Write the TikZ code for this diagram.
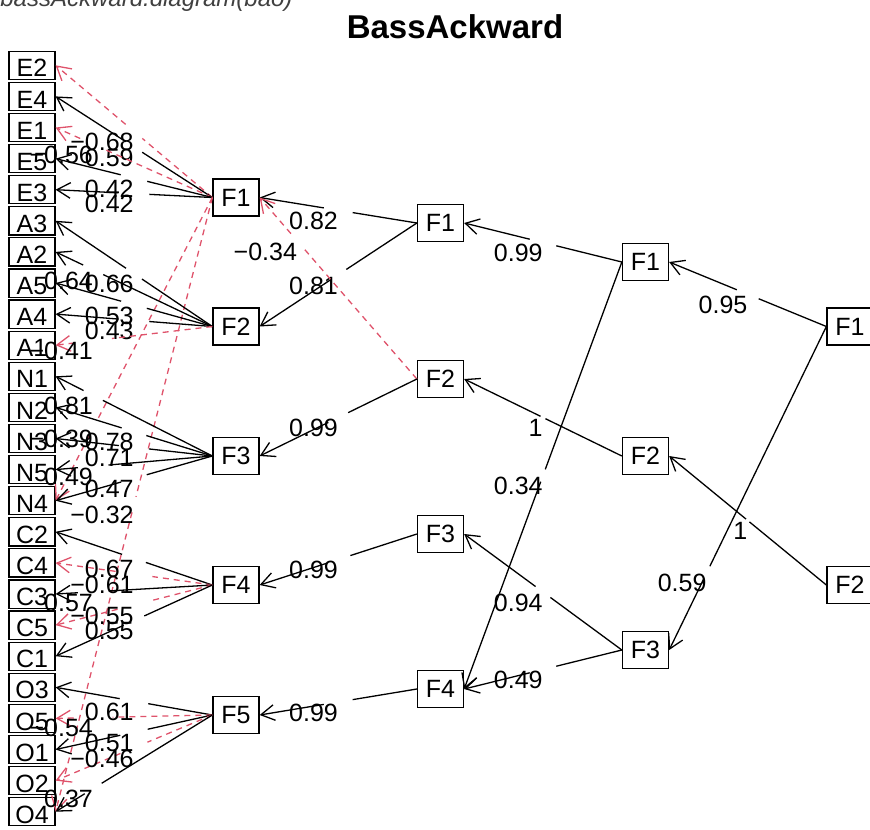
\documentclass[tikz,border=0pt]{standalone}
\usepackage{fontspec}
\setmainfont{Liberation Sans}
\usetikzlibrary{arrows.meta, calc}
\definecolor{NegRed}{HTML}{DF536B}
\tikzset{
  item node/.style={rectangle, draw, line width=0.6pt, minimum width=23pt,
                    minimum height=14.1pt, inner sep=0pt,
                    text height=11.6pt, text depth=0pt},
  fac node/.style={rectangle, draw, line width=0.65pt, minimum width=23pt,
                   minimum height=18.5pt, inner sep=0pt},
  pos edge/.style={line width=0.65pt},
  neg edge/.style={line width=0.65pt, draw=NegRed, dash pattern=on 3pt off 2.5pt},
  tip edge/.style={-{Straight Barb[angle=60:7.8pt]}},
  load label/.style={anchor=north east, inner sep=0pt, yshift=-0.7pt},
}
% from, to, position, gap (chars), label, style
\newcommand{\loading}[6]{%
  \path (#1.west) -- (#2.east) coordinate[pos=#3] (lm);
  \draw[#6] let \p1=($(#2.east)-(#1.west)$),
               \n1={#4*1.95*veclen(\x1,\y1)/veclen(\x1,2.5*(\y1))} in
    (#1.west) -- ($(lm)!{\n1*1pt}!(#1.west)$);
  \draw[#6, tip edge] let \p1=($(#2.east)-(#1.west)$),
               \n1={#4*1.95*veclen(\x1,\y1)/veclen(\x1,2.5*(\y1))} in
    ($(lm)!{\n1*1pt}!(#2.east)$) -- (#2.east);
  \node[load label] at (lm) {#5};
}

\begin{document}
\begin{tikzpicture}[x=0.5pt, y=-0.5pt, font=\fontsize{12.5}{15}\selectfont]
  \useasboundingbox (0,0) rectangle (870,829);
  \node[anchor=base west, inner sep=0pt, text=black!75, font=\fontsize{12}{14}\selectfont\itshape]
    (call) at (0,7) {bassAckward.diagram(bao)};
  \node[font=\fontsize{16.5}{19}\selectfont\bfseries] (title) at (455,27) {BassAckward};

  % items
  \foreach \nm [count=\i from 0] in {E2,E4,E1,E5,E3,A3,A2,A5,A4,A1,N1,N2,N3,N5,N4,
                                     C2,C4,C3,C5,C1,O3,O5,O1,O2,O4}
    \node[item node] (\nm) at (32,{65.3+31.1*\i}) {\nm};

  % factors, one column per level
  \foreach \y [count=\i] in {197.5,326.5,456,585,715}
    \node[fac node] (l1f\i) at (236,\y) {F\i};
  \foreach \y [count=\i] in {223,379,534,689}
    \node[fac node] (l2f\i) at (440.5,\y) {F\i};
  \foreach \y [count=\i] in {262,456,650}
    \node[fac node] (l3f\i) at (645.5,\y) {F\i};
  \foreach \y [count=\i] in {326.5,585}
    \node[fac node] (l4f\i) at (850,\y) {F\i};

  % level 1 to items
  \loading{l1f1}{E2}{0.5}{5}{−0.68}{neg edge}
  \loading{l1f1}{E4}{0.5}{4}{0.59}{pos edge}
  \loading{l1f1}{E1}{0.76}{5}{−0.56}{neg edge}
  \loading{l1f1}{E5}{0.5}{4}{0.42}{pos edge}
  \loading{l1f1}{E3}{0.5}{4}{0.42}{pos edge}
  \loading{l1f1}{N4}{0.76}{5}{−0.39}{neg edge}
  \loading{l1f1}{O4}{0.5}{5}{−0.32}{neg edge}

  \loading{l1f2}{A3}{0.5}{4}{0.66}{pos edge}
  \loading{l1f2}{A2}{0.76}{4}{0.64}{pos edge}
  \loading{l1f2}{A5}{0.5}{4}{0.53}{pos edge}
  \loading{l1f2}{A4}{0.5}{4}{0.43}{pos edge}
  \loading{l1f2}{A1}{0.76}{5}{−0.41}{neg edge}

  \loading{l1f3}{N1}{0.76}{4}{0.81}{pos edge}
  \loading{l1f3}{N2}{0.5}{4}{0.78}{pos edge}
  \loading{l1f3}{N3}{0.5}{4}{0.71}{pos edge}
  \loading{l1f3}{N5}{0.76}{4}{0.49}{pos edge}
  \loading{l1f3}{N4}{0.5}{4}{0.47}{pos edge}

  \loading{l1f4}{C2}{0.5}{4}{0.67}{pos edge}
  \loading{l1f4}{C4}{0.5}{5}{−0.61}{neg edge}
  \loading{l1f4}{C3}{0.76}{4}{0.57}{pos edge}
  \loading{l1f4}{C5}{0.5}{5}{−0.55}{neg edge}
  \loading{l1f4}{C1}{0.5}{4}{0.55}{pos edge}

  \loading{l1f5}{O3}{0.5}{4}{0.61}{pos edge}
  \loading{l1f5}{O5}{0.76}{5}{−0.54}{neg edge}
  \loading{l1f5}{O1}{0.5}{4}{0.51}{pos edge}
  \loading{l1f5}{O2}{0.5}{5}{−0.46}{neg edge}
  \loading{l1f5}{O4}{0.76}{4}{0.37}{pos edge}

  % between levels
  \loading{l2f1}{l1f1}{0.5}{4}{0.82}{pos edge}
  \loading{l2f1}{l1f2}{0.5}{4}{0.81}{pos edge}
  \loading{l2f2}{l1f1}{0.76}{5}{−0.34}{neg edge}
  \loading{l2f2}{l1f3}{0.5}{4}{0.99}{pos edge}
  \loading{l2f3}{l1f4}{0.5}{4}{0.99}{pos edge}
  \loading{l2f4}{l1f5}{0.5}{4}{0.99}{pos edge}

  \loading{l3f1}{l2f1}{0.5}{4}{0.99}{pos edge}
  \loading{l3f1}{l2f4}{0.5}{4}{0.34}{pos edge}
  \loading{l3f2}{l2f2}{0.5}{1}{1}{pos edge}
  \loading{l3f3}{l2f3}{0.5}{4}{0.94}{pos edge}
  \loading{l3f3}{l2f4}{0.5}{4}{0.49}{pos edge}

  \loading{l4f1}{l3f1}{0.5}{4}{0.95}{pos edge}
  \loading{l4f1}{l3f3}{0.76}{4}{0.59}{pos edge}
  \loading{l4f2}{l3f2}{0.5}{1}{1}{pos edge}
\end{tikzpicture}
\end{document}
